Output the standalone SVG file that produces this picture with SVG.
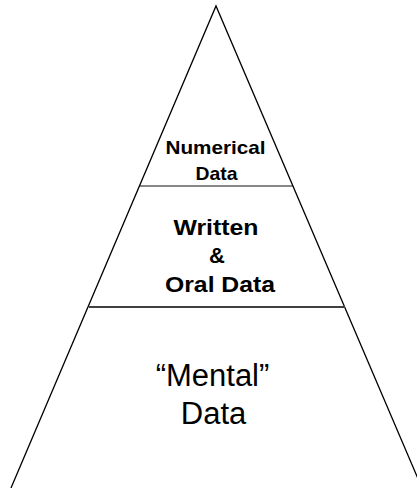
<svg xmlns="http://www.w3.org/2000/svg" width="417" height="488" viewBox="0 0 417 488">
  <style>
    .edge { fill: none; stroke: #000; stroke-width: 1.3; }
    .bold { font-family: "Liberation Sans", Arial, sans-serif; font-weight: bold; fill: #000; text-anchor: middle; }
    .plain { font-family: "Liberation Sans", Arial, sans-serif; font-size: 31px; fill: #000; text-anchor: middle; }
  </style>
  <rect width="417" height="488" fill="#fff"/>
  <g id="connectors">
    <!-- pyramid outline, running off the bottom edge -->
    <path class="edge" d="M11,488 L216,6 L422,488"/>
    <!-- tier dividers -->
    <line x1="140" y1="186" x2="293" y2="186" stroke="#111" stroke-width="1.2"/>
    <line x1="89" y1="307" x2="345" y2="307" stroke="#404040" stroke-width="2"/>
  </g>
  <g id="tier-numerical">
    <text class="bold" x="215.5" y="154" font-size="19" textLength="100" lengthAdjust="spacingAndGlyphs">Numerical</text>
    <text class="bold" x="216.5" y="180" font-size="19" textLength="42" lengthAdjust="spacingAndGlyphs">Data</text>
  </g>
  <g id="tier-written-oral">
    <text class="bold" x="216" y="235" font-size="22" textLength="85" lengthAdjust="spacingAndGlyphs">Written</text>
    <text class="bold" x="217" y="263" font-size="22">&amp;</text>
    <text class="bold" x="220" y="292" font-size="22" textLength="110" lengthAdjust="spacingAndGlyphs">Oral Data</text>
  </g>
  <g id="tier-mental">
    <text class="plain" x="212.5" y="386">“Mental”</text>
    <text class="plain" x="213.5" y="424">Data</text>
  </g>
</svg>
